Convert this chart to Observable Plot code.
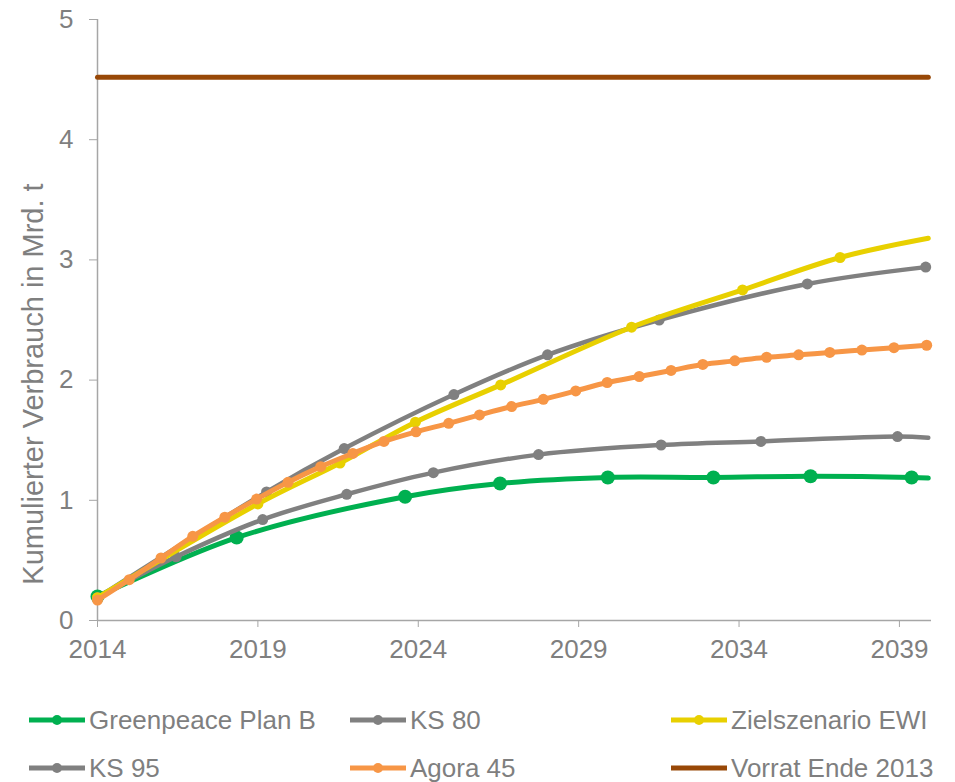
<!DOCTYPE html>
<html><head><meta charset="utf-8">
<script src="https://cdn.jsdelivr.net/npm/d3@7"></script>
<script src="https://cdn.jsdelivr.net/npm/@observablehq/plot@0.6"></script>
<style>
html,body{margin:0;background:#fff;font-family:"Liberation Sans",Arial,sans-serif;overflow:hidden;}
#legend{position:relative;width:955px;height:117px;}
.item{position:absolute;display:flex;align-items:center;font-size:26px;line-height:28px;color:#7f7f7f;white-space:nowrap;}
.item svg{margin-right:4px;}
</style></head><body><div id="chart"></div><div id="legend"></div>
<script>
// ---- data (years; lines are smoothed through markers) ----
const xTicks = [2014, 2019, 2024, 2029, 2034, 2039];
const yTicks = [0, 1, 2, 3, 4, 5];

const greenYears  = [2014, 2018.34, 2023.59, 2026.55, 2029.91, 2033.2, 2036.23, 2039.38];
const greenValues = [0.20, 0.69, 1.03, 1.14, 1.19, 1.19, 1.20, 1.19];
const greenEnd    = [2039.9, 1.185];

const ks80Years  = [2014, 2019.27, 2021.69, 2025.11, 2028.03, 2031.51, 2036.13, 2039.82];
const ks80Values = [0.19, 1.07, 1.43, 1.88, 2.21, 2.50, 2.80, 2.94];

const ks95Years  = [2014, 2016.45, 2019.15, 2021.77, 2024.47, 2027.75, 2031.57, 2034.68, 2038.94];
const ks95Values = [0.19, 0.53, 0.84, 1.05, 1.23, 1.38, 1.46, 1.49, 1.53];
const ks95End    = [2039.9, 1.52];

const ewiYears  = [2014, 2019.0, 2021.56, 2023.91, 2026.57, 2030.65, 2034.11, 2037.15];
const ewiValues = [0.19, 0.97, 1.31, 1.65, 1.96, 2.44, 2.75, 3.02];
const ewiEnd    = [2039.9, 3.18];

const agoraYears  = [2014, 2014.99, 2015.98, 2016.97, 2017.97, 2018.96, 2019.94, 2020.96, 2021.96, 2022.93,
                     2023.93, 2024.95, 2025.91, 2026.91, 2027.90, 2028.91, 2029.89, 2030.89, 2031.88, 2032.87,
                     2033.87, 2034.86, 2035.86, 2036.83, 2037.83, 2038.83, 2039.85];
const agoraValues = [0.17, 0.34, 0.52, 0.70, 0.86, 1.01, 1.15, 1.28, 1.39, 1.49,
                     1.57, 1.64, 1.71, 1.78, 1.84, 1.91, 1.98, 2.03, 2.08, 2.13,
                     2.16, 2.19, 2.21, 2.23, 2.25, 2.27, 2.29];

const vorratYears = [2014, 2039.9];
const vorratValue = 4.52;

const seriesNames  = ["Greenpeace Plan B", "KS 80", "Zielszenario EWI", "KS 95", "Agora 45", "Vorrat Ende 2013"];
const seriesColors = ["#00b050", "#808080", "#e8d000", "#808080", "#f79646", "#984807"];

// ---- build tables ----
function pts(name, years, values, end) {
  const p = years.map((y, i) => ({series: name, year: y, value: values[i]}));
  const line = end ? p.concat([{series: name, year: end[0], value: end[1]}]) : p;
  return {markers: p, line};
}
const green = pts("Greenpeace Plan B", greenYears, greenValues, greenEnd);
const ks95 = pts("KS 95", ks95Years, ks95Values, ks95End);
const ks80 = pts("KS 80", ks80Years, ks80Values);
const ewi = pts("Zielszenario EWI", ewiYears, ewiValues, ewiEnd);
const agora = pts("Agora 45", agoraYears, agoraValues);
const vorrat = vorratYears.map(y => ({year: y, value: vorratValue}));

const col = n => seriesColors[seriesNames.indexOf(n)];
const axisColor = "#a6a6a6";
const textColor = "#7f7f7f";

const layers = [
  [green, 5, 7],
  [ks95, 4.5, 5.5],
  [ks80, 4.5, 5.5],
  [ewi, 5, 5.5],
  [agora, 5, 5.5]
];

const marks = [
  Plot.ruleY([0], {stroke: axisColor, strokeWidth: 1.5}),
  Plot.ruleX([2014], {stroke: axisColor, strokeWidth: 1.5}),
  Plot.axisX({ticks: xTicks, tickFormat: d => String(d), tickSize: 7, tickPadding: 12, stroke: axisColor, fill: textColor, label: null}),
  Plot.axisY({ticks: yTicks, tickFormat: d => String(d), tickSize: 8, tickPadding: 16, stroke: axisColor, fill: textColor, label: null}),
  Plot.text(["Kumulierter Verbrauch in Mrd. t"], {frameAnchor: "left", rotate: -90, dx: -64, dy: 64, fill: textColor, fontSize: 29, textAnchor: "middle"}),
  Plot.line(vorrat, {x: "year", y: "value", stroke: col("Vorrat Ende 2013"), strokeWidth: 5})
];
for (const [s, w, r] of layers) {
  const c = col(s.markers[0].series);
  marks.push(Plot.line(s.line, {x: "year", y: "value", stroke: c, strokeWidth: w, curve: "catmull-rom"}));
  marks.push(Plot.dot(s.markers, {x: "year", y: "value", fill: c, r}));
}

const chart = Plot.plot({
  width: 955, height: 665,
  marginLeft: 97, marginRight: 24, marginTop: 19, marginBottom: 45,
  x: {domain: [2014, 2040]},
  y: {domain: [0, 5]},
  style: {fontFamily: '"Liberation Sans", Arial, sans-serif', fontSize: "26px", color: textColor, background: "#fff", overflow: "visible"},
  marks
});
chart.style.display = "block";
document.getElementById("chart").appendChild(chart);

// ---- legend ----
const legendPos = [[29, 55], [350, 55], [671, 55], [29, 103], [350, 103], [671, 103]];
const legend = document.getElementById("legend");
seriesNames.forEach((n, i) => {
  const [lx, ly] = legendPos[i];
  const d = document.createElement("div");
  d.className = "item";
  d.style.left = lx + "px";
  d.style.top = (ly - 14) + "px";
  d.style.height = "28px";
  const dot = n === "Vorrat Ende 2013" ? "" : `<circle cx="28" cy="10" r="5" fill="${seriesColors[i]}"/>`;
  d.innerHTML = `<svg width="56" height="20"><line x1="0" x2="56" y1="10" y2="10" stroke="${seriesColors[i]}" stroke-width="5"/>${dot}</svg><span>${n}</span>`;
  legend.appendChild(d);
});
</script></body></html>
